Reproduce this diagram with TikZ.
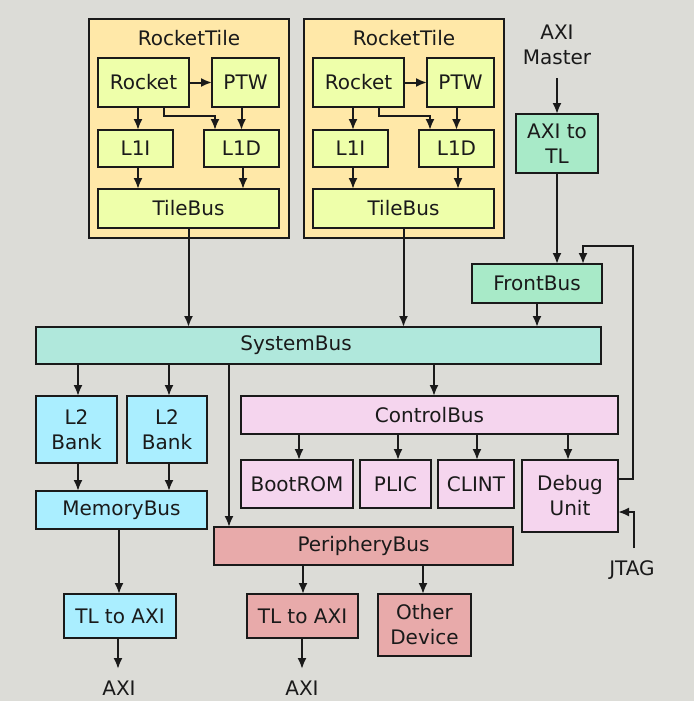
\documentclass[tikz,border=0pt]{standalone}
\usepackage{fontspec}
\setmainfont{DejaVu Sans}
\usetikzlibrary{arrows.meta}
\definecolor{bgc}{HTML}{DCDCD7}
\definecolor{tilec}{HTML}{FFE8A8}
\definecolor{corec}{HTML}{EEFFAA}
\definecolor{sysc}{HTML}{B0E8DC}
\definecolor{frontc}{HTML}{A8EAC8}
\definecolor{memc}{HTML}{AAEEFF}
\definecolor{ctrlc}{HTML}{F5D5EE}
\definecolor{perc}{HTML}{E8AAAA}
\definecolor{inkc}{HTML}{1A1A1A}
\begin{document}
\begin{tikzpicture}[x=1pt,y=-1pt,
  every node/.style={font=\fontsize{20}{25}\selectfont, text=inkc, align=center, inner sep=0pt, outer sep=0pt},
  bx/.style={draw=inkc, line width=2pt},
  sz/.style 2 args={minimum width=#1pt, minimum height=#2pt},
  arr/.style={draw=inkc, line width=2pt, -{Latex[length=11pt,width=9pt]}}]
\fill[bgc] (0,0) rectangle (694,701);
\useasboundingbox (0,0) rectangle (694,701);

% ---------- Rocket tiles ----------
\foreach \i/\dx in {1/0, 2/215} {
  \node[bx, fill=tilec, sz={200}{219}] (tile\i) at (189+\dx,128.5) {};
  \node (tt\i) at (189+\dx,38) {RocketTile};
  \node[bx, fill=corec, sz={91}{49}] (R\i) at (143.5+\dx,82.5) {Rocket};
  \node[bx, fill=corec, sz={67}{49}] (P\i) at (245.5+\dx,82.5) {PTW};
  \node[bx, fill=corec, sz={75}{37}] (I\i) at (135.5+\dx,148.5) {L1I};
  \node[bx, fill=corec, sz={75}{37}] (D\i) at (241.5+\dx,148.5) {L1D};
  \node[bx, fill=corec, sz={181}{39}] (T\i) at (188.5+\dx,208.5) {TileBus};
  \draw[arr] (R\i.east) -- (P\i.west);
  \draw[arr] ([xshift=2.5pt]I\i.north |- R\i.south) -- ([xshift=2.5pt]I\i.north);
  \draw[arr] ([xshift=20.5pt]R\i.south) -- ++(0,9) -| ([xshift=-26.5pt]D\i.north);
  \draw[arr] (D\i.north |- P\i.south) -- (D\i.north);
  \draw[arr] ([xshift=2.5pt]I\i.south) -- ([xshift=2.5pt]I\i.south |- T\i.north);
  \draw[arr] ([xshift=1.5pt]D\i.south) -- ([xshift=1.5pt]D\i.south |- T\i.north);
}

% ---------- System bus ----------
\node[bx, fill=sysc, sz={565}{37}, label={[xshift=-22.5pt]center:SystemBus}] (SB) at (318.5,345.5) {};
\draw[arr] (T1.south) -- (T1.south |- SB.north);
\draw[arr] (T2.south) -- (T2.south |- SB.north);

% ---------- Front side ----------
\node (axim) at (557,45) {AXI\\Master};
\node[bx, fill=frontc, sz={82}{59}] (a2t) at (557,143.5) {AXI to\\TL};
\node[bx, fill=frontc, sz={130}{39}] (FB) at (537,283.5) {FrontBus};
\coordinate (amtop) at (557,78);
\draw[arr] (amtop) -- (a2t.north);
\draw[arr] (a2t.south) -- (a2t.south |- FB.north);
\draw[arr] (FB.south) -- (FB.south |- SB.north);

% ---------- Memory side ----------
\node[bx, fill=memc, sz={81}{67}] (L2a) at (76.5,429.5) {L2\\Bank};
\node[bx, fill=memc, sz={80}{67}] (L2b) at (167,429.5) {L2\\Bank};
\node[bx, fill=memc, sz={171}{38}] (MB) at (121.5,510) {MemoryBus};
\node[bx, fill=memc, sz={112}{44}] (TA1) at (120,616) {TL to AXI};
\node (axi1) at (119,688) {AXI};
\draw[arr] ([xshift=1.5pt]L2a.north |- SB.south) -- ([xshift=1.5pt]L2a.north);
\draw[arr] ([xshift=2pt]L2b.north |- SB.south) -- ([xshift=2pt]L2b.north);
\draw[arr] ([xshift=1.5pt]L2a.south) -- ([xshift=1.5pt]L2a.south |- MB.north);
\draw[arr] ([xshift=2pt]L2b.south) -- ([xshift=2pt]L2b.south |- MB.north);
\draw[arr] ([xshift=-1pt]TA1.north |- MB.south) -- ([xshift=-1pt]TA1.north);
\coordinate (axi1top) at (118,669);
\draw[arr] (TA1.south -| axi1top) -- (axi1top);

% ---------- Control side ----------
\node[bx, fill=ctrlc, sz={377}{38}] (CB) at (429.5,415) {ControlBus};
\node[bx, fill=ctrlc, sz={112}{48}] (BR) at (297,484) {BootROM};
\node[bx, fill=ctrlc, sz={71}{48}] (PL) at (395.5,484) {PLIC};
\node[bx, fill=ctrlc, sz={76}{48}] (CL) at (476,484) {CLINT};
\node[bx, fill=ctrlc, sz={96}{72}] (DU) at (570,496) {Debug\\Unit};
\draw[arr] ([xshift=4.5pt]CB.north |- SB.south) -- ([xshift=4.5pt]CB.north);
\draw[arr] ([xshift=2pt]BR.north |- CB.south) -- ([xshift=2pt]BR.north);
\draw[arr] ([xshift=2.5pt]PL.north |- CB.south) -- ([xshift=2.5pt]PL.north);
\draw[arr] ([xshift=1pt]CL.north |- CB.south) -- ([xshift=1pt]CL.north);
\draw[arr] ([xshift=-2pt]DU.north |- CB.south) -- ([xshift=-2pt]DU.north);
\coordinate (fbk) at (633,246);
\draw[arr] ([yshift=17pt]DU.east) -| (fbk) -| ([xshift=46pt]FB.north);
\node (jtag) at (632,570) {JTAG};
\coordinate (jtagtop) at (634,548);
\draw[arr] (jtagtop) |- ([yshift=-16pt]DU.east);

% ---------- Periphery side ----------
\node[bx, fill=perc, sz={299}{38}] (PB) at (363.5,546) {PeripheryBus};
\node[bx, fill=perc, sz={111}{44}] (TA2) at (302.5,616) {TL to AXI};
\node[bx, fill=perc, sz={93}{62}] (OD) at (424.5,625) {Other\\Device};
\node (axi2) at (302,688) {AXI};
\draw[arr] ([xshift=-134.5pt]PB.north |- SB.south) -- ([xshift=-134.5pt]PB.north);
\draw[arr] ([xshift=0.5pt]TA2.north |- PB.south) -- ([xshift=0.5pt]TA2.north);
\draw[arr] ([xshift=-1.5pt]OD.north |- PB.south) -- ([xshift=-1.5pt]OD.north);
\coordinate (axi2top) at (302,669);
\draw[arr] (TA2.south -| axi2top) -- (axi2top);
\end{tikzpicture}
\end{document}
